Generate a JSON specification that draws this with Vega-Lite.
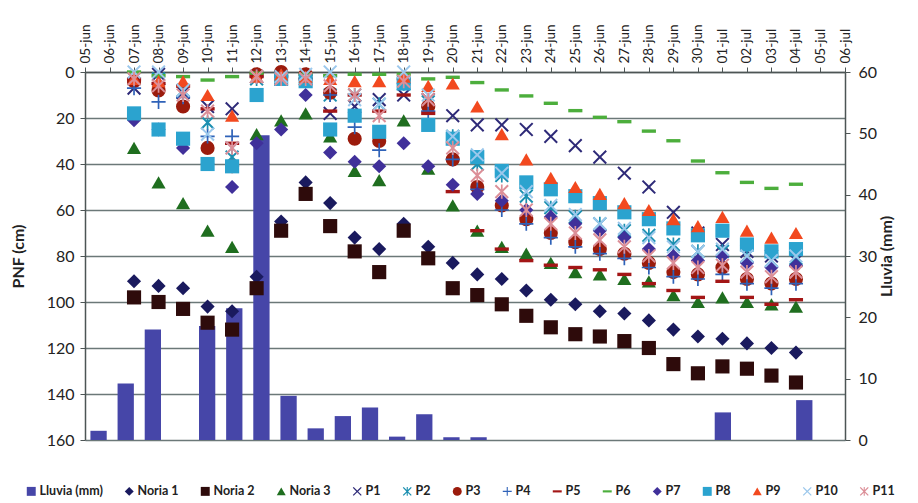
{
  "$schema": "https://vega.github.io/schema/vega-lite/v6.json",
  "width": 760,
  "height": 368,
  "autosize": {"type": "none"},
  "padding": {"left": 85, "top": 72, "right": 73, "bottom": 63},
  "background": "white",
  "config": {
    "font": "Lato",
    "view": {"stroke": null},
    "axis": {"domainColor": "#4d5555", "tickColor": "#4d5555", "labelColor": "#222", "titleColor": "#222", "domainWidth": 1.5, "tickWidth": 1}
  },
  "datasets": {
    "lluvia": [
      {"fecha": "07-jun", "serie": "Lluvia (mm)", "lluvia": 1.5},
      {"fecha": "08-jun", "serie": "Lluvia (mm)", "lluvia": 9.2},
      {"fecha": "09-jun", "serie": "Lluvia (mm)", "lluvia": 18.0},
      {"fecha": "10-jun", "serie": "Lluvia (mm)", "lluvia": 0},
      {"fecha": "11-jun", "serie": "Lluvia (mm)", "lluvia": 18.6},
      {"fecha": "12-jun", "serie": "Lluvia (mm)", "lluvia": 21.5},
      {"fecha": "13-jun", "serie": "Lluvia (mm)", "lluvia": 49.7},
      {"fecha": "14-jun", "serie": "Lluvia (mm)", "lluvia": 7.2},
      {"fecha": "15-jun", "serie": "Lluvia (mm)", "lluvia": 1.9},
      {"fecha": "16-jun", "serie": "Lluvia (mm)", "lluvia": 3.9},
      {"fecha": "17-jun", "serie": "Lluvia (mm)", "lluvia": 5.3},
      {"fecha": "18-jun", "serie": "Lluvia (mm)", "lluvia": 0.55},
      {"fecha": "19-jun", "serie": "Lluvia (mm)", "lluvia": 4.2},
      {"fecha": "20-jun", "serie": "Lluvia (mm)", "lluvia": 0.45},
      {"fecha": "21-jun", "serie": "Lluvia (mm)", "lluvia": 0.45},
      {"fecha": "22-jun", "serie": "Lluvia (mm)", "lluvia": 0},
      {"fecha": "23-jun", "serie": "Lluvia (mm)", "lluvia": 0},
      {"fecha": "24-jun", "serie": "Lluvia (mm)", "lluvia": 0},
      {"fecha": "25-jun", "serie": "Lluvia (mm)", "lluvia": 0},
      {"fecha": "26-jun", "serie": "Lluvia (mm)", "lluvia": 0},
      {"fecha": "27-jun", "serie": "Lluvia (mm)", "lluvia": 0},
      {"fecha": "28-jun", "serie": "Lluvia (mm)", "lluvia": 0},
      {"fecha": "29-jun", "serie": "Lluvia (mm)", "lluvia": 0},
      {"fecha": "30-jun", "serie": "Lluvia (mm)", "lluvia": 4.5},
      {"fecha": "01-jul", "serie": "Lluvia (mm)", "lluvia": 0},
      {"fecha": "02-jul", "serie": "Lluvia (mm)", "lluvia": 0},
      {"fecha": "03-jul", "serie": "Lluvia (mm)", "lluvia": 6.5},
      {"fecha": "04-jul", "serie": "Lluvia (mm)", "lluvia": 0}
    ],
    "pnf": [
      {"fecha": "07-jun", "Noria 1": 91, "Noria 2": 98, "Noria 3": 33, "P1": 7, "P2": 3, "P3": 4, "P4": 7, "P5": 3, "P6": 0, "P7": 21, "P8": 18, "P9": 3, "P10": 0, "P11": 3},
      {"fecha": "08-jun", "Noria 1": 93, "Noria 2": 100, "Noria 3": 48, "P1": 1, "P2": 3, "P3": 8, "P4": 13, "P5": 5, "P6": 1.6, "P7": 25, "P8": 25, "P9": 4, "P10": 0, "P11": 6},
      {"fecha": "09-jun", "Noria 1": 94, "Noria 2": 103, "Noria 3": 57, "P1": 9, "P2": 8, "P3": 15, "P4": 11, "P5": 6, "P6": 2, "P7": 33, "P8": 29, "P9": 4, "P10": 8, "P11": 10},
      {"fecha": "10-jun", "Noria 1": 102, "Noria 2": 109, "Noria 3": 69, "P1": 15, "P2": 22, "P3": 33, "P4": 28, "P5": 16, "P6": 3.5, "P7": 40, "P8": 40, "P9": 10, "P10": 27, "P11": 17},
      {"fecha": "11-jun", "Noria 1": 104, "Noria 2": 112, "Noria 3": 76, "P1": 16, "P2": 37, "P3": 41, "P4": 28, "P5": 31, "P6": 2, "P7": 50, "P8": 41, "P9": 19, "P10": 33, "P11": 33},
      {"fecha": "12-jun", "Noria 1": 89, "Noria 2": 94, "Noria 3": 27, "P1": 2, "P2": 3, "P3": 1, "P4": 2, "P5": 2, "P6": 0.5, "P7": 31, "P8": 10, "P9": 2, "P10": 2, "P11": 2},
      {"fecha": "13-jun", "Noria 1": 65, "Noria 2": 69, "Noria 3": 21, "P1": 2, "P2": 3, "P3": 0, "P4": 2, "P5": 2, "P6": 1, "P7": 25, "P8": 3, "P9": 1, "P10": 2, "P11": 3},
      {"fecha": "14-jun", "Noria 1": 48, "Noria 2": 53, "Noria 3": 18, "P1": 3, "P2": 3, "P3": 1, "P4": 3, "P5": 3, "P6": 1, "P7": 10, "P8": 4, "P9": 2, "P10": 1, "P11": 3},
      {"fecha": "15-jun", "Noria 1": 57, "Noria 2": 67, "Noria 3": 28, "P1": 18, "P2": 10, "P3": 9, "P4": 10, "P5": 17, "P6": 1.6, "P7": 35, "P8": 25, "P9": 3, "P10": 0, "P11": 6},
      {"fecha": "16-jun", "Noria 1": 72, "Noria 2": 78, "Noria 3": 43, "P1": 15, "P2": 10, "P3": 29, "P4": 24, "P5": 10, "P6": 1, "P7": 39, "P8": 19, "P9": 4, "P10": 12, "P11": 10},
      {"fecha": "17-jun", "Noria 1": 77, "Noria 2": 87, "Noria 3": 47, "P1": 12, "P2": 14, "P3": 30, "P4": 34, "P5": 17, "P6": 1, "P7": 41, "P8": 26, "P9": 4, "P10": 14, "P11": 19},
      {"fecha": "18-jun", "Noria 1": 66, "Noria 2": 69, "Noria 3": 21, "P1": 10, "P2": 5, "P3": 3, "P4": 5, "P5": 10, "P6": 1, "P7": 31, "P8": 5, "P9": 2, "P10": 0, "P11": 4},
      {"fecha": "19-jun", "Noria 1": 76, "Noria 2": 81, "Noria 3": 42, "P1": 12, "P2": 13, "P3": 15, "P4": 17, "P5": 18, "P6": 3, "P7": 41, "P8": 23, "P9": 6, "P10": 10, "P11": 12},
      {"fecha": "20-jun", "Noria 1": 83, "Noria 2": 94, "Noria 3": 58, "P1": 19, "P2": 28, "P3": 38, "P4": 38, "P5": 52, "P6": 2.3, "P7": 49, "P8": 29, "P9": 5, "P10": 28, "P11": 33},
      {"fecha": "21-jun", "Noria 1": 88, "Noria 2": 97, "Noria 3": 69, "P1": 23, "P2": 40, "P3": 50, "P4": 51, "P5": 69, "P6": 4.6, "P7": 53, "P8": 37, "P9": 15, "P10": 36, "P11": 45},
      {"fecha": "22-jun", "Noria 1": 90, "Noria 2": 101, "Noria 3": 76, "P1": 23, "P2": 45, "P3": 58, "P4": 60, "P5": 77, "P6": 7.8, "P7": 56, "P8": 43, "P9": 27, "P10": 44, "P11": 52},
      {"fecha": "23-jun", "Noria 1": 95, "Noria 2": 106, "Noria 3": 79, "P1": 25, "P2": 54, "P3": 64, "P4": 66, "P5": 82, "P6": 10.4, "P7": 60, "P8": 48, "P9": 38, "P10": 52, "P11": 60},
      {"fecha": "24-jun", "Noria 1": 99, "Noria 2": 111, "Noria 3": 83, "P1": 28, "P2": 59, "P3": 70, "P4": 72, "P5": 84, "P6": 13.6, "P7": 63, "P8": 51, "P9": 46, "P10": 58, "P11": 66},
      {"fecha": "25-jun", "Noria 1": 101, "Noria 2": 114, "Noria 3": 87, "P1": 32, "P2": 63, "P3": 74, "P4": 76, "P5": 85, "P6": 16.8, "P7": 66, "P8": 54, "P9": 50, "P10": 62, "P11": 70},
      {"fecha": "26-jun", "Noria 1": 104, "Noria 2": 115, "Noria 3": 88, "P1": 37, "P2": 66, "P3": 77, "P4": 79, "P5": 86, "P6": 19.7, "P7": 69, "P8": 57, "P9": 53, "P10": 66, "P11": 73},
      {"fecha": "27-jun", "Noria 1": 105, "Noria 2": 117, "Noria 3": 90, "P1": 44, "P2": 69, "P3": 79, "P4": 81, "P5": 88, "P6": 21.6, "P7": 72, "P8": 61, "P9": 57, "P10": 68, "P11": 76},
      {"fecha": "28-jun", "Noria 1": 108, "Noria 2": 120, "Noria 3": 91, "P1": 50, "P2": 71, "P3": 83, "P4": 85, "P5": 92, "P6": 25.7, "P7": 77, "P8": 64, "P9": 60, "P10": 72, "P11": 80},
      {"fecha": "29-jun", "Noria 1": 112, "Noria 2": 127, "Noria 3": 97, "P1": 61, "P2": 75, "P3": 87, "P4": 89, "P5": 95, "P6": 29.9, "P7": 80, "P8": 68, "P9": 64, "P10": 76, "P11": 83},
      {"fecha": "30-jun", "Noria 1": 115, "Noria 2": 131, "Noria 3": 100, "P1": 70, "P2": 78, "P3": 88, "P4": 90, "P5": 98, "P6": 38.7, "P7": 82, "P8": 71, "P9": 67, "P10": 78, "P11": 85},
      {"fecha": "01-jul", "Noria 1": 116, "Noria 2": 128, "Noria 3": 98, "P1": 75, "P2": 78, "P3": 85, "P4": 88, "P5": 91, "P6": 43.8, "P7": 80, "P8": 69, "P9": 63, "P10": 77, "P11": 84},
      {"fecha": "02-jul", "Noria 1": 118, "Noria 2": 129, "Noria 3": 100, "P1": 78, "P2": 80, "P3": 90, "P4": 92, "P5": 98, "P6": 48, "P7": 83, "P8": 75, "P9": 69, "P10": 80, "P11": 87},
      {"fecha": "03-jul", "Noria 1": 120, "Noria 2": 132, "Noria 3": 101, "P1": 80, "P2": 82, "P3": 92, "P4": 94, "P5": 101, "P6": 50.6, "P7": 85, "P8": 78, "P9": 72, "P10": 82, "P11": 89},
      {"fecha": "04-jul", "Noria 1": 122, "Noria 2": 135, "Noria 3": 102, "P1": 82, "P2": 81, "P3": 90, "P4": 92, "P5": 99, "P6": 48.8, "P7": 84, "P8": 77, "P9": 70, "P10": 80, "P11": 87}
    ]
  },
  "layer": [
    {
      "data": {"name": "lluvia"},
      "mark": {"type": "bar"},
      "encoding": {
        "x": {
          "field": "fecha", "type": "ordinal",
          "scale": {"type": "band", "paddingInner": 0.4, "paddingOuter": 0.2,
            "domain": ["07-jun","08-jun","09-jun","10-jun","11-jun","12-jun","13-jun","14-jun","15-jun","16-jun","17-jun","18-jun","19-jun","20-jun","21-jun","22-jun","23-jun","24-jun","25-jun","26-jun","27-jun","28-jun","29-jun","30-jun","01-jul","02-jul","03-jul","04-jul"]},
          "axis": null
        },
        "y": {
          "field": "lluvia", "type": "quantitative",
          "scale": {"domain": [0, 60], "nice": false, "zero": true},
          "axis": {"orient": "right", "title": "Lluvia (mm)", "titleAngle": 270, "titleFontSize": 16, "titleFontWeight": "bold", "titlePadding": 18,
            "values": [0, 10, 20, 30, 40, 50, 60], "grid": false, "labelFontSize": 16, "labelPadding": 8, "tickSize": 5}
        },
        "color": {
          "field": "serie", "type": "nominal",
          "scale": {
            "domain": ["Lluvia (mm)", "Noria 1", "Noria 2", "Noria 3", "P1", "P2", "P3", "P4", "P5", "P6", "P7", "P8", "P9", "P10", "P11"],
            "range": ["#4646a8", "#1a1a5e", "#2e0b0b", "#1f6e1f", "#2e2a78", "#1b8fb0", "#9b1b0c", "#2f62b8", "#a31616", "#4cae3c", "#40309a", "#2ba3cf", "#f2491f", "#9cc8ec", "#dc8f98"]
          },
          "legend": {
            "orient": "none", "legendX": -60, "legendY": 413, "direction": "horizontal", "columns": 15,
            "title": null, "labelFontSize": 12.5, "labelFontWeight": "bold", "labelColor": "#222",
            "symbolSize": 80, "columnPadding": 20, "labelOffset": 2
          }
        }
      }
    },
    {
      "data": {"name": "pnf"},
      "transform": [
        {"fold": ["Noria 1", "Noria 2", "Noria 3", "P1", "P2", "P3", "P4", "P5", "P6", "P7", "P8", "P9", "P10", "P11"], "as": ["serie", "pnf"]}
      ],
      "mark": {"type": "point", "filled": true, "size": 200, "opacity": 1},
      "encoding": {
        "x": {
          "field": "fecha", "type": "ordinal",
          "scale": {"type": "point", "padding": 0,
            "domain": ["05-jun","06-jun","07-jun","08-jun","09-jun","10-jun","11-jun","12-jun","13-jun","14-jun","15-jun","16-jun","17-jun","18-jun","19-jun","20-jun","21-jun","22-jun","23-jun","24-jun","25-jun","26-jun","27-jun","28-jun","29-jun","30-jun","01-jul","02-jul","03-jul","04-jul","05-jul","06-jul"]},
          "axis": {"orient": "top", "title": null, "labelAngle": -90, "labelFontSize": 13.5, "labelPadding": 4, "tickSize": 5, "grid": false}
        },
        "y": {
          "field": "pnf", "type": "quantitative",
          "scale": {"domain": [0, 160], "reverse": true, "nice": false},
          "axis": {"orient": "left", "title": "PNF (cm)", "titleFontSize": 16, "titleFontWeight": "bold", "titlePadding": 20,
            "values": [0, 20, 40, 60, 80, 100, 120, 140, 160], "grid": true, "gridColor": "#6b7878", "gridWidth": 1.3,
            "labelFontSize": 16, "labelPadding": 6, "tickSize": 5}
        },
        "color": {"field": "serie", "type": "nominal"},
        "shape": {
          "field": "serie", "type": "nominal",
          "scale": {
            "domain": ["Lluvia (mm)", "Noria 1", "Noria 2", "Noria 3", "P1", "P2", "P3", "P4", "P5", "P6", "P7", "P8", "P9", "P10", "P11"],
            "range": [
              "square", "diamond", "square", "triangle-up",
              "M-1,-0.8L-0.8,-1L0,-0.2L0.8,-1L1,-0.8L0.2,0L1,0.8L0.8,1L0,0.2L-0.8,1L-1,0.8L-0.2,0Z",
              "M-1,-0.8L-0.8,-1L0,-0.2L0.8,-1L1,-0.8L0.2,0L1,0.8L0.8,1L0,0.2L-0.8,1L-1,0.8L-0.2,0Z M-0.12,-1L0.12,-1L0.12,1L-0.12,1Z",
              "circle",
              "M-1,-0.12L1,-0.12L1,0.12L-1,0.12Z M-0.12,-1L0.12,-1L0.12,1L-0.12,1Z",
              "M-1,-0.24L1,-0.24L1,0.24L-1,0.24Z",
              "M-1,-0.24L1,-0.24L1,0.24L-1,0.24Z",
              "diamond", "square", "triangle-up",
              "M-1,-0.8L-0.8,-1L0,-0.2L0.8,-1L1,-0.8L0.2,0L1,0.8L0.8,1L0,0.2L-0.8,1L-1,0.8L-0.2,0Z",
              "M-1,-0.8L-0.8,-1L0,-0.2L0.8,-1L1,-0.8L0.2,0L1,0.8L0.8,1L0,0.2L-0.8,1L-1,0.8L-0.2,0Z M-0.12,-1L0.12,-1L0.12,1L-0.12,1Z"
            ]
          }
        }
      }
    }
  ],
  "resolve": {"scale": {"x": "independent", "y": "independent"}}
}
